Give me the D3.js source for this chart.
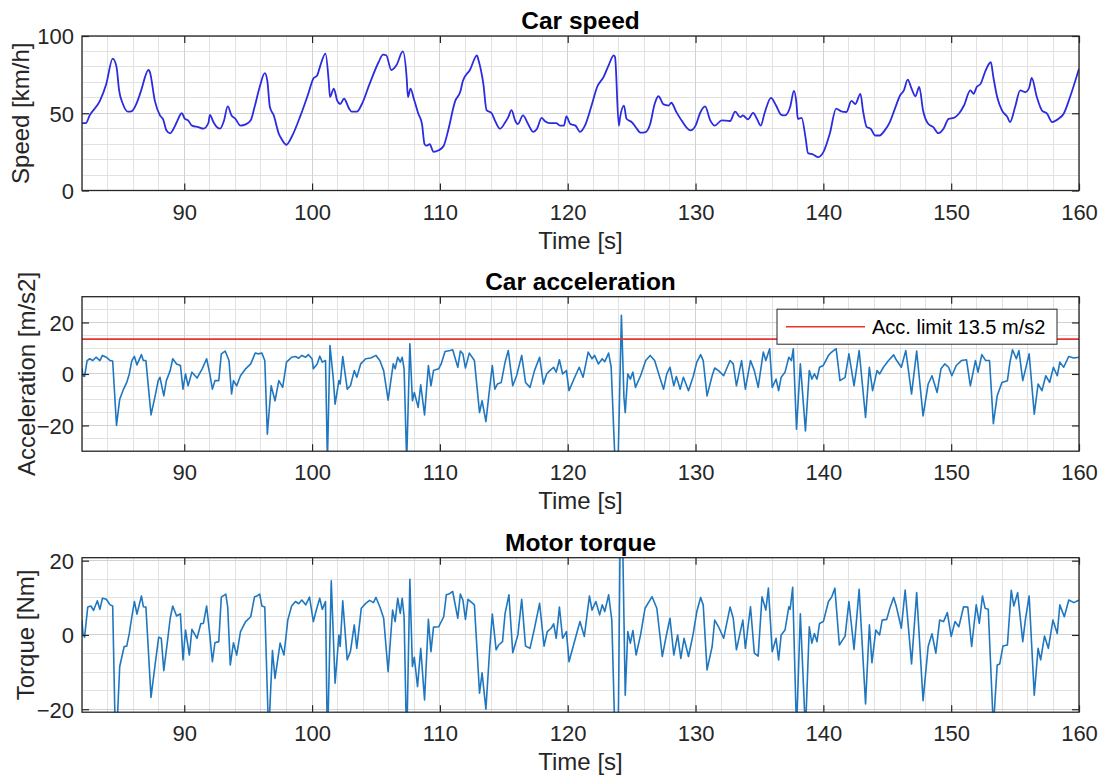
<!DOCTYPE html>
<html>
<head>
<meta charset="utf-8">
<script src="https://cdn.jsdelivr.net/npm/d3@7"></script>
<style>
  html, body { margin: 0; padding: 0; background: #ffffff; }
  svg { display: block; font-family: "Liberation Sans", Arial, Helvetica, sans-serif; }
</style>
</head>
<body>
<svg id="fig" width="1101" height="778"></svg>
<script>
// ---- data -------------------------------------------------------------
const timeRange = [82, 160];
const timeTicks = [90, 100, 110, 120, 130, 140, 150, 160];

const speedRange = [0, 100];
const speedTicks = [0, 50, 100];
const speedT = [82.0, 82.3, 82.6, 83.4, 83.9, 84.4, 84.7, 84.9, 85.2, 85.6, 85.9, 86.3, 86.6, 87.2, 87.3, 87.7, 88.1, 88.35, 88.6, 88.9,
  89.1, 89.4, 89.8, 90.05, 90.3, 90.6, 91.1, 91.5, 91.9, 92.0, 92.3, 92.5, 92.8, 93.1, 93.4, 93.7, 94.0, 94.4, 94.8, 95.2,
  95.5, 95.9, 96.3, 96.5, 96.7, 97.0, 97.4, 97.6, 98.0, 98.4, 99.1, 99.7, 100.1, 100.4, 100.65, 101.05, 101.3, 101.4, 101.7, 101.96,
  102.2, 102.5, 102.9, 103.1, 103.5, 103.9, 104.5, 105.2, 105.55, 105.8, 106.2, 106.6, 107.1, 107.4, 107.5, 107.7, 107.96, 108.3, 108.6, 108.8,
  108.95, 109.2, 109.5, 109.9, 110.3, 110.65, 111.2, 111.6, 111.8, 112.35, 112.9, 113.0, 113.4, 113.65, 114.05, 114.3, 114.7, 115.1, 115.35, 115.6,
  115.9, 116.1, 116.5, 116.9, 117.3, 117.6, 117.96, 118.2, 118.6, 119.1, 119.4, 119.7, 119.9, 120.2, 120.6, 120.96, 121.4, 121.9, 122.3, 122.8,
  123.2, 123.6, 123.7, 124.0, 124.1, 124.4, 124.6, 125.05, 125.4, 125.7, 126.1, 126.45, 126.8, 127.1, 127.5, 127.9, 128.1, 128.5, 128.9, 129.6,
  130.0, 130.35, 130.75, 131.15, 131.5, 132.05, 132.7, 133.1, 133.5, 133.7, 134.1, 134.5, 134.8, 135.1, 135.4, 135.9, 136.3, 136.7, 137.0, 137.4,
  137.7, 137.9, 138.0, 138.3, 138.6, 138.8, 139.2, 139.6, 140.0, 140.5, 141.0, 141.4, 141.8, 142.2, 142.5, 142.9, 143.1, 143.4, 143.7, 144.05,
  144.4, 144.8, 145.2, 145.6, 146.0, 146.3, 146.6, 146.9, 147.2, 147.5, 147.8, 148.2, 148.6, 149.0, 149.4, 149.8, 150.2, 150.6, 151.0, 151.5,
  151.75, 152.0, 152.3, 152.7, 153.1, 153.3, 153.6, 153.97, 154.4, 154.6, 155.0, 155.4, 155.8, 156.1, 156.3, 156.7, 157.1, 157.5, 157.9, 158.4,
  158.8, 159.3, 160.0];
const speedV = [43.6, 43.6, 48.6, 58, 69, 85.3, 80, 65, 56, 51, 51.4, 57, 64, 78, 77, 58, 48.6, 46, 39, 37,
  39, 44, 50, 46.4, 45.4, 42, 41, 40, 44, 49, 44, 41.5, 40, 45, 54.4, 48.6, 46.4, 42, 42.8, 45.4,
  54, 67, 76, 71, 54, 48.6, 36.7, 33.5, 29.6, 34.6, 48.6, 62.6, 72.4, 74.5, 81, 88.6, 71, 60.5, 66, 58.3,
  56, 59.4, 53, 51, 51, 56, 69, 83, 88, 87.5, 78, 81, 90, 73, 60.5, 66, 59.4, 50, 43, 30,
  29, 30, 25, 26, 29, 39, 58, 64, 71, 78, 87.5, 85, 69, 52, 50, 45.4, 40, 44, 47.5, 52,
  45, 43, 48.6, 43, 38, 40, 47, 45, 43.6, 43.6, 42, 42, 48, 43, 42, 38, 43, 56, 67, 73.4,
  81, 87.5, 86.4, 42, 47.5, 55, 46.4, 44, 40, 37.4, 37.8, 43, 56, 61, 55.7, 55, 56.8, 50.8, 45.4, 38.9,
  42, 50, 54.4, 45.4, 42, 45.4, 45, 51, 47.5, 48.6, 46, 50.3, 46.4, 42, 50, 60, 55, 49, 48.6, 54,
  64.4, 56, 46.4, 47, 34.6, 24.2, 23.3, 21.6, 24.8, 36.7, 53, 51.2, 50.8, 58, 56, 62.6, 51.8, 41, 40, 35.6,
  35.6, 38.9, 44.3, 53, 61.5, 64.8, 71.7, 65.9, 61, 67, 51.8, 43.2, 41, 37.1, 40, 46.4, 47, 49.7, 55, 64.8,
  62.6, 67, 69, 77.8, 83, 73.4, 60.5, 51.8, 47.5, 44.3, 54, 64.8, 63.7, 66.5, 72.8, 60.5, 51.8, 49.7, 44.3, 46.4,
  49.7, 60.5, 78.8];

const accRange = [-30, 30];
const accTicks = [-20, 0, 20];
const accLimit = 13.5;
const accT = [82.0, 82.07, 82.2, 82.4, 82.6, 82.85, 83.1, 83.4, 83.6, 83.9, 84.2, 84.4, 84.7, 84.95, 85.2, 85.5, 85.7, 85.9, 86.1, 86.3,
  86.65, 86.8, 87.0, 87.4, 87.7, 87.96, 88.1, 88.4, 88.6, 88.9, 89.1, 89.4, 89.7, 89.9, 90.1, 90.3, 90.6, 91.0, 91.4, 91.75,
  92.0, 92.2, 92.4, 92.7, 92.9, 93.2, 93.5, 93.7, 93.85, 94.1, 94.4, 94.8, 95.2, 95.55, 95.8, 96.07, 96.3, 96.5, 96.8, 97.1,
  97.4, 97.7, 98.0, 98.4, 98.7, 98.95, 99.2, 99.5, 99.7, 100.0, 100.1, 100.4, 100.6, 100.8, 101.05, 101.2, 101.4, 101.65, 101.8, 102.1,
  102.2, 102.4, 102.75, 103.0, 103.3, 103.5, 103.8, 104.2, 104.6, 105.0, 105.3, 105.6, 105.95, 106.2, 106.35, 106.5, 106.7, 106.9, 107.05, 107.2,
  107.4, 107.65, 107.85, 108.0, 108.3, 108.5, 108.8, 109.1, 109.3, 109.5, 109.9, 110.1, 110.4, 110.8, 111.0, 111.4, 111.6, 111.8, 112.0, 112.3,
  112.7, 113.1, 113.3, 113.6, 113.9, 114.1, 114.3, 114.5, 114.8, 115.1, 115.35, 115.7, 116.0, 116.4, 116.7, 117.05, 117.4, 117.8, 118.1, 118.35,
  118.6, 118.9, 119.1, 119.35, 119.6, 119.9, 120.1, 120.6, 120.9, 121.2, 121.6, 121.9, 122.1, 122.4, 122.7, 122.9, 123.2, 123.4, 123.7, 123.95,
  124.2, 124.4, 124.5, 124.7, 124.9, 125.1, 125.3, 125.7, 126.1, 126.45, 126.8, 127.2, 127.5, 127.75, 128.0, 128.3, 128.5, 128.8, 129.05, 129.45,
  129.8, 130.1, 130.4, 130.6, 130.9, 131.3, 131.5, 131.8, 132.2, 132.7, 132.95, 133.2, 133.6, 133.9, 134.3, 134.6, 134.9, 135.3, 135.5, 135.8,
  136.0, 136.3, 136.5, 136.7, 137.0, 137.3, 137.5, 137.65, 137.9, 138.2, 138.6, 138.9, 139.1, 139.3, 139.5, 139.7, 140.0, 140.4, 140.65, 141.0,
  141.3, 141.7, 142.0, 142.4, 142.8, 143.3, 143.6, 143.85, 144.2, 144.4, 144.7, 145.1, 145.5, 145.7, 146.1, 146.45, 146.9, 147.3, 147.8, 148.2,
  148.5, 148.9, 149.2, 149.5, 149.8, 150.05, 150.4, 150.8, 151.2, 151.5, 151.9, 152.1, 152.4, 152.7, 153.0, 153.3, 153.6, 153.97, 154.4, 154.6,
  154.8, 155.1, 155.3, 155.6, 156.1, 156.5, 156.8, 157.1, 157.4, 157.7, 158.0, 158.3, 158.5, 158.8, 159.2, 159.6, 160.0];
const accV = [2.3, -0.7, -1, 5.2, 5.9, 5.2, 6.5, 5.2, 7.2, 6.5, 5.2, 5, -20, -9.8, -6.5, -3.3, 0, 5.2, 6.8, 3.5,
  7.5, 5.2, 5.2, -15.9, -9.1, -2.6, -1.3, -8.5, -2.6, 1.3, 5.9, 3.9, 3.3, -5.9, 0, -4.6, 0.7, -1.6, 2, 5.9,
  0, -5.9, -2.6, -2.6, 7.8, 8.9, 5.2, -7.8, -2.6, -4.6, -0.7, 2, 3.9, 8.1, 7.8, 8.1, 5.2, -23.4, -4.6, -10.4,
  -2.6, -5.2, 4.6, 6.5, 6.8, 6.1, 7.2, 6.5, 7.5, 5.9, 2, 3.9, 6.9, 4.6, 5.2, -34, 11, -1.3, -11.7, -2.6,
  -3.9, 6.8, -5.9, -4.6, 1.3, -1.3, 3.9, 5.9, 6.2, 7.2, 5.2, 1.3, -10.2, -1.3, 3.9, 2, 6.5, 4.6, 6.5, 2,
  -34, 11.7, -10.4, -7.2, -13, -4.2, -15.9, 3.3, -4.6, 1.3, 2, 3.9, 8.7, 9.1, 9.4, 2.6, 8.9, 7.8, 2.3, 8.1,
  5.2, -15, -10.4, -18.5, -5.2, 3.3, -5.9, -3.9, -3.3, 4.6, 9.1, -4.6, -0.7, 7.2, -3.3, -5.2, 1.3, 6.5, -3.9, 0,
  1.3, 2.6, 0.7, 5.5, 0, 1.3, -6.5, -0.7, 2.6, -1.3, 8.5, 5.9, 7.2, 3.9, 5.9, 4.8, 8.1, 2.6, -34, -32,
  22.8, -9.1, -15, 0, -2, 0.7, -5.2, -0.7, 5.2, 7.2, 5.2, -1.3, -5.9, 0, 2.6, -4.6, -1, -5.9, -1.3, -6.5,
  -1.3, 4.6, 7.5, 5.2, -8.5, -0.7, 2.3, 1.3, -0.7, 5.2, 3.9, -4.6, 5.2, -5.9, 5.2, 1.3, -5.2, 8.5, 5.2, 9.8,
  -5.2, -2, -6.5, -1.3, 0.7, 6.5, 5.2, 9.8, -21.5, 3.9, -22.1, 1.3, -2, 0, -2, 2.6, 3.3, 7.2, 8.5, 9.8,
  -2.6, -1.3, 7.8, -4.6, 9.1, -16.9, 2.6, -6.5, 1.3, 0, 2.6, 5.2, 7.4, 5.5, 2.6, 9.1, -7.8, 8.9, -16.3, -3.9,
  -0.7, -7.2, 2, 3.9, 2.6, -0.7, 3.3, 5.2, 5.5, -4.6, 5.2, 0.7, 7.5, 5.2, 5.2, -19.3, -8.5, -3.3, -2.6, 4.6,
  9.4, 5.9, 9.1, -2.6, 7.8, -15.6, -3.9, -6.5, -0.7, -3.3, 2.6, -0.7, 4.6, 2.6, 6.8, 6.2, 6.5];

const torqueRange = [-20.8, 20.8];
const torqueTicks = [-20, 0, 20];
const torqueT = [82.0, 82.07, 82.2, 82.45, 82.7, 82.9, 83.2, 83.4, 83.6, 83.9, 84.2, 84.4, 84.6, 84.75, 84.95, 85.3, 85.5, 85.7, 85.9, 86.1,
  86.3, 86.65, 86.8, 87.0, 87.4, 87.7, 88.0, 88.2, 88.4, 88.7, 88.9, 89.1, 89.4, 89.7, 89.9, 90.1, 90.4, 90.6, 91.0, 91.3,
  91.5, 91.75, 91.96, 92.2, 92.4, 92.7, 92.9, 93.25, 93.4, 93.6, 93.85, 94.1, 94.4, 94.8, 95.2, 95.5, 95.7, 95.9, 96.07, 96.3,
  96.6, 96.9, 97.1, 97.5, 97.8, 98.1, 98.4, 98.7, 98.95, 99.2, 99.5, 99.8, 100.1, 100.3, 100.6, 100.8, 101.05, 101.2, 101.5, 101.8,
  102.1, 102.2, 102.4, 102.75, 103.0, 103.3, 103.5, 103.85, 104.2, 104.5, 104.8, 105.0, 105.3, 105.6, 105.95, 106.3, 106.5, 106.7, 106.9, 107.05,
  107.2, 107.4, 107.65, 107.85, 108.0, 108.25, 108.5, 108.8, 109.1, 109.3, 109.5, 109.9, 110.3, 110.5, 110.7, 111.0, 111.4, 111.6, 111.8, 112.0,
  112.2, 112.7, 113.1, 113.3, 113.6, 113.9, 114.1, 114.4, 114.6, 114.9, 115.1, 115.4, 115.7, 116.1, 116.4, 116.7, 117.05, 117.4, 117.8, 118.15,
  118.4, 118.7, 118.9, 119.1, 119.35, 119.6, 119.9, 120.1, 120.6, 120.96, 121.3, 121.7, 121.9, 122.2, 122.5, 122.7, 122.9, 123.2, 123.45, 123.7,
  123.95, 124.1, 124.3, 124.5, 124.7, 124.9, 125.1, 125.35, 125.7, 126.05, 126.6, 126.97, 127.4, 127.7, 128.0, 128.3, 128.6, 128.85, 129.1, 129.45,
  129.8, 130.1, 130.4, 130.6, 130.9, 131.3, 131.5, 131.8, 132.2, 132.7, 132.95, 133.2, 133.7, 133.9, 134.3, 134.6, 134.9, 135.2, 135.5, 135.7,
  136.0, 136.3, 136.5, 136.7, 137.0, 137.3, 137.4, 137.6, 137.9, 138.2, 138.6, 138.9, 139.1, 139.3, 139.5, 139.7, 140.0, 140.4, 140.65, 140.9,
  141.25, 141.7, 142.0, 142.4, 142.8, 143.3, 143.6, 143.8, 144.1, 144.4, 144.6, 144.96, 145.2, 145.5, 145.7, 146.1, 146.4, 146.9, 147.3, 147.8,
  148.2, 148.5, 148.8, 149.1, 149.4, 149.7, 150.0, 150.3, 150.6, 150.97, 151.3, 151.6, 151.96, 152.2, 152.45, 152.65, 152.9, 153.3, 153.6, 153.8,
  154.05, 154.4, 154.7, 154.9, 155.2, 155.6, 155.8, 156.1, 156.5, 156.8, 157.0, 157.3, 157.6, 157.96, 158.3, 158.5, 158.85, 159.2, 159.6, 160.0];
const torqueV = [4, 0.4, -0.6, 7.5, 7.8, 6.6, 9.2, 6.9, 9.9, 9.6, 8.1, 7.8, -26, -24, -8.5, -3.1, -3, 0.4, 4.9, 9,
  5.6, 10.5, 7.6, 7.5, -16.8, -8.5, -0.6, -0.9, -9.6, -1.3, 4.5, 7.8, 5.1, 5.7, -6.7, 1.3, -5.4, 1.5, -0.9, 3.1,
  3.1, 7.8, 1.3, -7.2, -2.1, -1.8, 10.2, 11, 7.5, -8.1, -2.1, -5.4, 0.9, 3.6, 4.9, 10.3, 10.5, 11, 7.8, 7.5,
  -27, -4.2, -11.7, -2.2, -5.4, 4, 7.8, 9, 8.4, 9.4, 8.1, 10.2, 3.6, 6.3, 9.9, 6.9, 9, -30, 14.6, -13,
  0, -3.1, 9.2, -6.7, -4.5, 2.7, -3.6, 7.2, 8.5, 9.3, 8.7, 10.1, 7.6, 4.5, -9.9, 6.7, 3.6, 9.9, 5.8, 9.9,
  4.9, -30, 15, -8.5, -6, -13.9, -3.6, -17.5, 4.2, -4.5, 2.1, 2.2, 4.9, 10.8, 11, 11.7, 4.5, 11, 9.4, 4.2,
  9.6, 8.1, -15.7, -10.2, -20, -3.6, 5.6, -4, -2.7, -1.8, 5.8, 10.8, -4.8, 0, 9.6, -3, -3.6, 1.8, 8.5, -3,
  0.9, 1.8, 3, -0.9, 7.5, -0.9, 0.9, -7.2, -0.9, 3.6, -0.4, 10.5, 6.7, 9, 5.4, 8.1, 6.3, 10.8, 4, -28,
  -27, 26, 25, -16.2, 0.9, -2.2, 1.2, -5.4, 0, 7.2, 10.3, 7.2, -5.8, -0.4, 4.5, -5.4, 0, -6.3, -0.9, -5.8,
  0, 6.3, 10.1, 8.1, -9.4, -3.1, 4, 2.2, -0.9, 7.5, 4.5, -4, 4, -3.6, 7.6, -4.9, -5.7, 10.3, 6.7, 12.6,
  -4.5, -0.9, -6.7, 0, 1.3, 7.6, 6.9, 12.8, -26, 5.7, -26, 2.2, -2.2, 0.4, -1.8, 3.1, 3.6, 9, 10.2, 12.6,
  -2.7, -0.3, 9, -3.9, 12.3, -18.6, 2.7, -7.5, 1.3, 0, 4, 4.2, 7.2, 10.1, 7.8, 1.8, 12.1, -7.8, 11.4, -17.7,
  -3.1, 0.3, -4.9, 4, 3.6, 6, -0.4, 3.6, 2.2, 7.6, 7.5, -3.1, 8.1, 3.1, 10.5, 7.2, 6.9, -25, -8.1, -7.8,
  -3, -2.7, 12, 7.8, 11.4, -1.8, 4, 10.5, -16.2, -3.6, -6.7, -0.3, -3.6, 4, 0.4, 8.1, 4.9, 9.4, 8.7, 9.4];

// ---- layout -----------------------------------------------------------
const W = 1101, H = 778;
const left = 82, right = 1079;
const panelH = 154.5;
const panelTops = [36, 296.7, 557.7];
const ink = "#262626";
const fontFamily = '"Liberation Sans", Arial, Helvetica, sans-serif';

const svg = d3.select("#fig");
svg.append("rect").attr("width", W).attr("height", H).attr("fill", "#ffffff");

const x = d3.scaleLinear().domain(timeRange).range([left, right]);

const panels = [
  { title: "Car speed", ylabel: "Speed [km/h]", range: speedRange, ticks: speedTicks, minor: 10,
    t: speedT, v: speedV, color: "#2b2be0", width: 1.8, curve: d3.curveMonotoneX, ylabX: 29 },
  { title: "Car acceleration", ylabel: "Acceleration [m/s2]", range: accRange, ticks: accTicks, minor: 5,
    t: accT, v: accV, color: "#1f77c0", width: 1.6, curve: d3.curveLinear, ylabX: 35, limit: accLimit },
  { title: "Motor torque", ylabel: "Torque [Nm]", range: torqueRange, ticks: torqueTicks, minor: 5,
    t: torqueT, v: torqueV, color: "#1f77c0", width: 1.6, curve: d3.curveLinear, ylabX: 34 }
];

panels.forEach((p, i) => {
  const top = panelTops[i], bottom = top + panelH;
  const y = d3.scaleLinear().domain(p.range).range([bottom, top]);
  const g = svg.append("g");

  // grid: minor first, then major
  const xMinor = d3.range(timeRange[0], timeRange[1] + 1e-9, 2);
  const yMinor = d3.range(Math.ceil(p.range[0] / p.minor) * p.minor, p.range[1] + 1e-9, p.minor);
  const grid = g.append("g").attr("shape-rendering", "crispEdges");
  grid.selectAll(".vmin").data(xMinor).join("line")
    .attr("x1", d => x(d)).attr("x2", d => x(d)).attr("y1", top).attr("y2", bottom)
    .attr("stroke", "#e2e2e2").attr("stroke-width", 1);
  grid.selectAll(".hmin").data(yMinor).join("line")
    .attr("x1", left).attr("x2", right).attr("y1", d => y(d)).attr("y2", d => y(d))
    .attr("stroke", "#e2e2e2").attr("stroke-width", 1);
  grid.selectAll(".vmaj").data(timeTicks).join("line")
    .attr("x1", d => x(d)).attr("x2", d => x(d)).attr("y1", top).attr("y2", bottom)
    .attr("stroke", "#d2d2d2").attr("stroke-width", 1);
  grid.selectAll(".hmaj").data(p.ticks).join("line")
    .attr("x1", left).attr("x2", right).attr("y1", d => y(d)).attr("y2", d => y(d))
    .attr("stroke", "#d2d2d2").attr("stroke-width", 1);

  // clip region for the plotted signals
  const clipId = "clip" + i;
  svg.append("clipPath").attr("id", clipId)
    .append("rect").attr("x", left).attr("y", top).attr("width", right - left).attr("height", panelH);

  const plot = g.append("g").attr("clip-path", `url(#${clipId})`);
  const pts = p.t.map((t, k) => [t, p.v[k]]);
  const line = d3.line().x(d => x(d[0])).y(d => y(d[1])).curve(p.curve);
  plot.append("path").datum(pts).attr("d", line)
    .attr("fill", "none").attr("stroke", p.color).attr("stroke-width", p.width)
    .attr("stroke-linejoin", "round");

  if (p.limit !== undefined) {
    plot.append("line")
      .attr("x1", left).attr("x2", right).attr("y1", y(p.limit)).attr("y2", y(p.limit))
      .attr("stroke", "#e8332f").attr("stroke-width", 1.8);
  }

  // axes with inward ticks
  const styleAxis = sel => {
    sel.select(".domain").remove();
    sel.selectAll(".tick line").attr("stroke", ink).attr("stroke-width", 1.2);
    sel.selectAll(".tick text").attr("fill", ink).attr("font-size", 22).attr("font-family", fontFamily);
  };
  const xb = g.append("g").attr("transform", `translate(0,${bottom})`)
    .call(d3.axisBottom(x).tickValues(timeTicks).tickSize(-7).tickFormat(d3.format("d")));
  styleAxis(xb);
  xb.selectAll(".tick text").attr("dy", null).attr("y", 29);
  const xt = g.append("g").attr("transform", `translate(0,${top})`)
    .call(d3.axisTop(x).tickValues(timeTicks).tickSize(-7).tickFormat(""));
  styleAxis(xt);
  const yl = g.append("g").attr("transform", `translate(${left},0)`)
    .call(d3.axisLeft(y).tickValues(p.ticks).tickSize(-7).tickPadding(8).tickFormat(d3.format("d")));
  styleAxis(yl);
  yl.selectAll(".tick text").attr("dy", "0.36em");
  const yr = g.append("g").attr("transform", `translate(${right},0)`)
    .call(d3.axisRight(y).tickValues(p.ticks).tickSize(-7).tickFormat(""));
  styleAxis(yr);

  // frame
  g.append("rect").attr("x", left).attr("y", top).attr("width", right - left).attr("height", panelH)
    .attr("fill", "none").attr("stroke", ink).attr("stroke-width", 1.3);

  // titles and labels
  g.append("text").attr("x", (left + right) / 2).attr("y", top - 7)
    .attr("text-anchor", "middle").attr("font-size", 24.5).attr("font-weight", "bold")
    .attr("fill", "#000000").text(p.title);
  g.append("text").attr("x", (left + right) / 2).attr("y", bottom + 58)
    .attr("text-anchor", "middle").attr("font-size", 24).attr("fill", ink).text("Time [s]");
  g.append("text")
    .attr("transform", `translate(${p.ylabX},${(top + bottom) / 2}) rotate(-90)`)
    .attr("text-anchor", "middle").attr("font-size", 24).attr("fill", ink).text(p.ylabel);

  // legend for the acceleration limit
  if (p.limit !== undefined) {
    const lg = g.append("g").attr("transform", `translate(${right - 302},${top + 12.5})`);
    lg.append("rect").attr("width", 280).attr("height", 35)
      .attr("fill", "#ffffff").attr("stroke", ink).attr("stroke-width", 1);
    lg.append("line").attr("x1", 9).attr("x2", 88).attr("y1", 17.5).attr("y2", 17.5)
      .attr("stroke", "#e8332f").attr("stroke-width", 1.5);
    lg.append("text").attr("x", 95).attr("y", 17.5).attr("dy", "0.35em")
      .attr("font-size", 20).attr("fill", "#000000")
      .text(`Acc. limit ${p.limit} m/s2`);
  }
});
</script>
</body>
</html>
